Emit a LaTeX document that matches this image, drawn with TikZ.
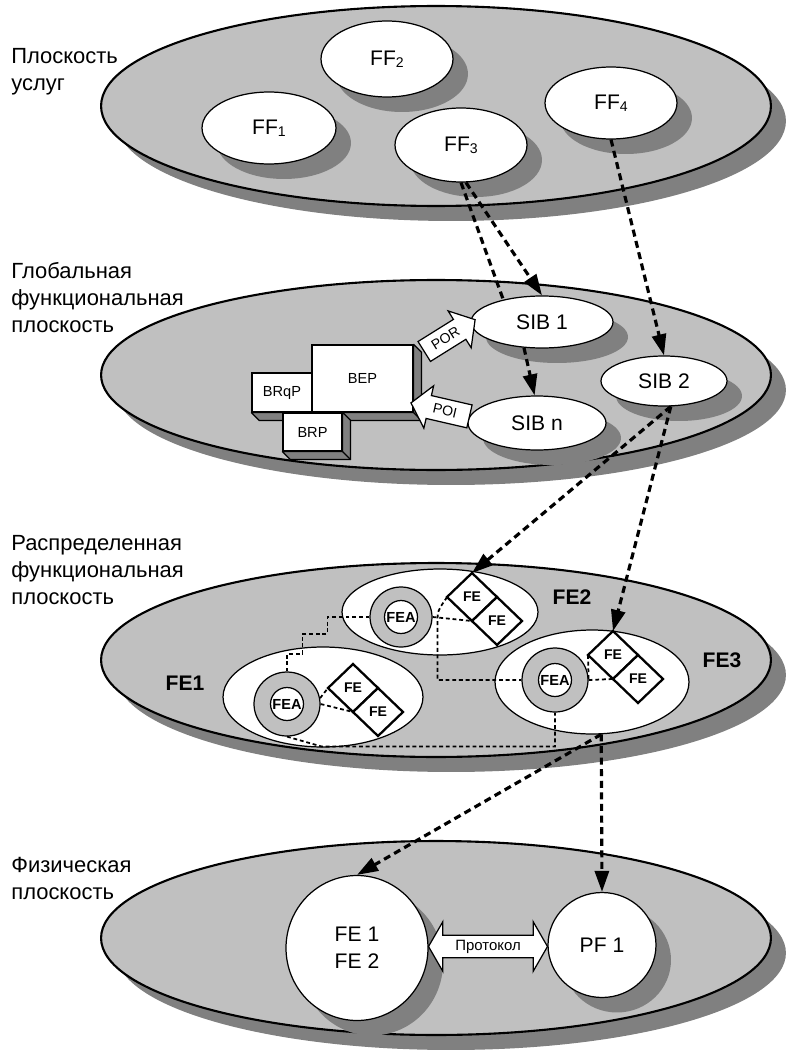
\documentclass[tikz,border=0pt]{standalone}
\usepackage{fontspec}
\setmainfont{Liberation Sans}
\usetikzlibrary{shapes.geometric,shapes.arrows,shadows,arrows.meta,calc,positioning}

\definecolor{planegray}{RGB}{192,192,192}
\definecolor{shadegray}{RGB}{128,128,128}

% small index digit after FF
\newcommand{\ffsub}[1]{\raisebox{-0.15ex}{\fontsize{8}{8}\selectfont #1}}
% grey side and bottom faces of a box node
\newcommand{\extrude}[1]{%
  \filldraw[boxside] (#1.north east) -- ++(8,8) -- ($(#1.south east)+(8,8)$)
    -- ($(#1.south west)+(8,8)$) -- (#1.south west) -- (#1.south east) -- cycle;
  \draw[boxside] (#1.south east) -- ++(8,8);}

\tikzset{
	castshadow/.style={drop shadow={shadow xshift=0.3cm, shadow yshift=-0.3cm, fill=shadegray, opacity=1}},
	stratum/.style={ellipse, draw, line width=1.2pt, fill=planegray, minimum width=13.4cm, minimum height=#1, inner sep=0pt, castshadow},
	planelabel/.style={anchor=north west, align=left, inner sep=0pt, font=\fontsize{12.5}{15.4}\selectfont},
	func/.style={ellipse, draw, line width=0.7pt, fill=white, inner sep=0pt, font=\fontsize{12}{15.4}\selectfont, castshadow},
	unitbox/.style={rectangle, draw, line width=0.7pt, fill=white, inner sep=0pt, font=\fontsize{8.3}{10}\selectfont},
	boxside/.style={fill=shadegray, draw, line width=0.7pt, line join=round},
	port/.style={single arrow, draw, line width=0.7pt, fill=white, inner xsep=1pt, inner ysep=3.5pt, minimum height=1.2cm, single arrow head extend=0.2cm, single arrow tip angle=100, font=\fontsize{8}{9}\selectfont},
	entity/.style={ellipse, draw, line width=0.7pt, fill=white, inner sep=0pt},
	ring/.style={ellipse, draw, line width=0.7pt, fill=planegray, inner sep=0pt},
	core/.style={circle, draw, line width=0.7pt, fill=white, inner sep=0pt, minimum size=0.66cm, font=\bfseries\fontsize{8.3}{9}\selectfont},
	fediamond/.style={diamond, draw, line width=1.3pt, fill=white, inner sep=0pt, outer sep=0pt, minimum width=1cm, minimum height=0.96cm, font=\bfseries\fontsize{8}{9}\selectfont},
	planetag/.style={font=\bfseries\fontsize{12}{14}\selectfont},
	link/.style={line width=1pt, dash pattern=on 2.2pt off 1.6pt},
	flowline/.style={line width=1.8pt, dash pattern=on 4pt off 2.6pt},
	flow/.style={flowline, -{Triangle[length=12pt,width=8pt]}}
}

\begin{document}
\begin{tikzpicture}[x=0.02cm, y=-0.02cm]
    \useasboundingbox (0,0) rectangle (785,1054);

    % service plane
    \node[stratum=4cm] (svc) at (436,106) {};
    \node[planelabel] (svclabel) at (11,48) {Плоскость\\услуг};
    \node[func, minimum width=2.68cm, minimum height=1.44cm] (ff1) at (269,128) {FF\ffsub{1}};
    \node[func, minimum width=2.64cm, minimum height=1.52cm] (ff2) at (387,59) {FF\ffsub{2}};
    \node[func, minimum width=2.64cm, minimum height=1.48cm] (ff3) at (461,145) {FF\ffsub{3}};
    \node[func, minimum width=2.64cm, minimum height=1.44cm] (ff4) at (611,103) {FF\ffsub{4}};

    % global functional plane
    \node[stratum=3.8cm] (gfp) at (436,375) {};
    \node[planelabel] (gflabel) at (11,262) {Глобальная\\функциональная\\плоскость};
    \node[func, minimum width=2.84cm, minimum height=1.04cm] (sib1) at (542,322) {SIB 1};
    \node[func, minimum width=2.52cm, minimum height=1cm] (sib2) at (664,381) {SIB 2};
    \node[func, minimum width=2.76cm, minimum height=1.08cm] (sibn) at (537,423) {SIB n};
    \node[unitbox, minimum width=1.2cm, minimum height=0.78cm] (brqp) at (282,392.5) {BRqP};
    \extrude{brqp}
    \node[unitbox, minimum width=2.02cm, minimum height=1.34cm] (bep) at (362.5,378.5) {BEP};
    \extrude{bep}
    \node[unitbox, minimum width=1.18cm, minimum height=0.76cm] (brp) at (312.5,432) {BRP};
    \extrude{brp}
    \node[port, rotate=32] (por) at ($(bep.north east)!0.5!(sib1.west)+(3.5,5)$) {POR};
    \node[port, shape border rotate=180, rotate=-13] (poi) at ($(bep.east)!0.5!(sibn.west)+(4.5,10)$) {POI};

    % distributed functional plane
    \node[stratum=3.88cm] (dfp) at (436,660) {};
    \node[planelabel] (dflabel) at (11,535) {Распределенная\\функциональная\\плоскость};
    \node[entity, minimum width=3.92cm, minimum height=1.72cm] (fe2) at (440,612) {};
    \node[entity, minimum width=4cm, minimum height=2cm] (fe1) at (323,697) {};
    \node[entity, minimum width=3.88cm, minimum height=2.08cm] (fe3) at (592,682) {};
    \node[ring, minimum width=1.24cm, minimum height=1.2cm] (fea2) at (401,617) {};
    \node[core] (fea2c) at (fea2) {FEA};
    \node[ring, minimum width=1.32cm, minimum height=1.28cm] (fea1) at (287,704) {};
    \node[core] (fea1c) at (fea1) {FEA};
    \node[ring, minimum width=1.32cm, minimum height=1.28cm] (fea3) at (555,680) {};
    \node[core] (fea3c) at (fea3) {FEA};
    \node[fediamond] (fe2a) at (472,597) {FE};
    \node[fediamond, anchor=west] (fe2b) at (fe2a.south) {FE};
    \node[fediamond] (fe1a) at (353,688) {FE};
    \node[fediamond, anchor=west] (fe1b) at (fe1a.south) {FE};
    \node[fediamond] (fe3a) at (613,655) {FE};
    \node[fediamond, anchor=west] (fe3b) at (fe3a.south) {FE};
    \node[planetag] (fe1tag) at (185,683) {FE1};
    \node[planetag] (fe2tag) at (572,597) {FE2};
    \node[planetag] (fe3tag) at (722,660) {FE3};

    \draw[link] (fea2.west) -- ++(-42,0) -- ++(0,17) -- ++(-25,0) -- ++(0,20) -| (fea1.north);
    \draw[link] (fea2.east) -- (fe2b.west);
    \draw[link] (fe2a.west) to[out=240,in=90] ([xshift=0.1cm]fea2.east) |- (fea3.west);
    \draw[link] (fea1.east) -- (fe1b.west);
    \draw[link] (fea1.10) -- (fe1a.west);
    \draw[link] (fea1.south) -- ++(35,10) -| (fea3.south);
    \draw[link] (fea3.east) -- (fe3b.west);
    \draw[link] (fe3a.west) -- (fea3.east);

    % physical plane
    \node[stratum=3.88cm] (php) at (436,938) {};
    \node[planelabel] (phlabel) at (11,857) {Физическая\\плоскость};
    \node[func, align=center, minimum width=2.84cm, minimum height=2.9cm] (fe12) at (357,948) {FE 1\\FE 2};
    \node[func, minimum width=2.16cm, minimum height=2.1cm] (pf1) at (602,945) {PF 1};
    \node[double arrow, draw, line width=0.7pt, fill=white, inner xsep=1pt, inner ysep=2.3pt,
          minimum height=2.38cm, double arrow head extend=0.27cm, double arrow tip angle=120,
          font=\fontsize{8.5}{10}\selectfont] (proto) at ($(fe12.east)!0.5!(pf1.west)$) {Протокол};

    % mappings between the planes
    \draw[flowline] (ff3.south) -- (sib1.150);
    \draw[flow] ([xshift=0.1cm]ff3.south) -- (sib1.north);
    \draw[flow] (ff4.south) -- (sib2.north);
    \draw[flow] (sib1.235) -- (sibn.95);
    \draw[flow] (sib2.285) -- (fe2a.north);
    \draw[flow] (sib2.285) -- (fe3a.north);
    \draw[flow] (fe3.280) -- (fe12.north);
    \draw[flow] (fe3.280) -- (pf1.north);
\end{tikzpicture}
\end{document}
